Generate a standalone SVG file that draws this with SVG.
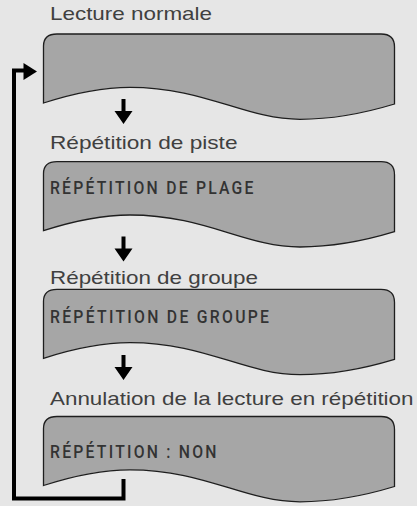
<svg xmlns="http://www.w3.org/2000/svg" width="417" height="506" viewBox="0 0 417 506">
<defs>
<style>
.bg{fill:#e6e6e6}
.scr{fill:#a6a6a6;stroke:#1e1e1e;stroke-width:1.3}
.lbl{font-family:"Liberation Sans",Arial,sans-serif;font-size:18.5px;fill:#404040}
.cap{font-family:Roboto,"Liberation Sans",sans-serif;font-weight:500;font-size:17.5px;fill:#333333}
.ln{fill:none;stroke:#000;stroke-width:4;stroke-linejoin:miter;stroke-linecap:butt}
.ah{fill:#000}
</style>
<path id="screen" d="M43.5,103 L43.5,46 Q43.5,34 57,34 L381,34 Q394.5,34 394.5,47 L394.5,104 C365,113 330,119.3 300,119.3 C245,119.3 205,87.3 130,87.3 C95,87.3 65,96 43.5,103 Z"/>
<path id="down" d="M121.5,0 H125.5 V12 H132.5 L123.5,25 L114.5,12 H121.5 Z"/>
</defs>
<rect class="bg" x="0" y="0" width="417" height="506"/>

<g id="node1">
<text class="lbl" x="50" y="20" textLength="162" lengthAdjust="spacingAndGlyphs">Lecture normale</text>
<use href="#screen" class="scr"/>
</g>
<g id="node2">
<text class="lbl" x="50" y="149.3" textLength="187.5" lengthAdjust="spacingAndGlyphs">Répétition de piste</text>
<use href="#screen" class="scr" y="127.7"/>
<text class="cap" transform="scale(0.9,1)" x="55.56" y="194" textLength="226" lengthAdjust="spacing">RÉPÉTITION DE PLAGE</text>
</g>
<g id="node3">
<text class="lbl" x="50" y="284" textLength="208" lengthAdjust="spacingAndGlyphs">Répétition de groupe</text>
<use href="#screen" class="scr" y="255.3"/>
<text class="cap" transform="scale(0.9,1)" x="55.56" y="323.3" textLength="243.3" lengthAdjust="spacing">RÉPÉTITION DE GROUPE</text>
</g>
<g id="node4">
<text class="lbl" x="50" y="405" textLength="363.5" lengthAdjust="spacingAndGlyphs">Annulation de la lecture en répétition</text>
<use href="#screen" class="scr" y="382.5"/>
<text class="cap" transform="scale(0.9,1)" x="55.56" y="458" textLength="185" lengthAdjust="spacing">RÉPÉTITION : NON</text>
</g>

<g id="connectors">
<use href="#down" class="ah" y="99"/>
<use href="#down" class="ah" y="236.5"/>
<use href="#down" class="ah" y="355"/>
<path class="ln" d="M123.5,479 V498.5 H14 V70.5 H25"/>
<polygon class="ah" points="23.5,63 37,71.5 23.5,80"/>
</g>
</svg>
